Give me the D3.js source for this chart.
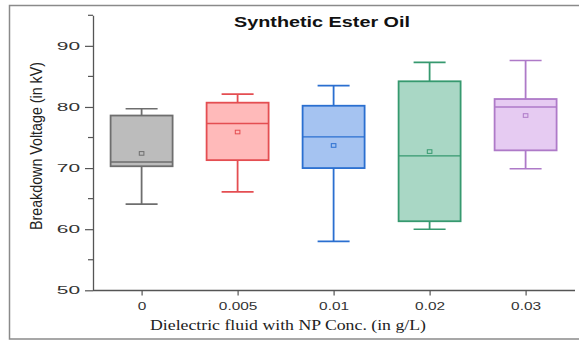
<!DOCTYPE html>
<html>
<head>
<meta charset="utf-8">
<script src="https://cdn.jsdelivr.net/npm/d3@7"></script>
<style>
  body { margin: 0; background: #fff; }
  svg { display: block; }
</style>
</head>
<body>
<svg id="chart" width="579" height="342"></svg>
<script>
// NP concentration groups (g/L)
const categories = ['0', '0.005', '0.01', '0.02', '0.03'];
// box stats (kV)
const whiskerLow = [64.1, 66.1, 58.0, 60.0, 69.9];
const q1 = [70.3, 71.3, 70.0, 61.3, 72.9];
const median = [71.0, 77.3, 75.1, 72.0, 80.0];
const q3 = [78.6, 80.7, 80.2, 84.2, 81.3];
const whiskerHigh = [79.7, 82.1, 83.5, 87.3, 87.6];
const mean = [72.4, 75.9, 73.7, 72.7, 78.6];
const yTicks = [50, 60, 70, 80, 90];
const yMinorTicks = [55, 65, 75, 85, 95];

const fills = ['#bcbcbc', '#ffbaba', '#a5c3f1', '#a9d7c5', '#e6cbf2'];
const strokes = ['#6e6e6e', '#e44e52', '#2a6fd0', '#36996f', '#ae7ac8'];

const svg = d3.select('#chart');
const axisColor = '#555';

// outer frame (right edge runs off the picture)
svg.append('rect')
    .attr('x', 9.5).attr('y', 5.5)
    .attr('width', 600).attr('height', 333.5)
    .attr('fill', 'none')
    .attr('stroke', '#8a8a8a')
    .attr('stroke-width', 1.5);

const yScale = d3.scaleLinear().domain([50, 95]).range([290.3, 15.3]);
const xScale = d3.scalePoint().domain(categories).range([141.6, 525.6]);

const boxWidth = 62;
const capWidth = 32;

// y axis
const yAxis = svg.append('g')
    .attr('transform', 'translate(93,0)')
    .call(d3.axisLeft(yScale).tickValues(yTicks).tickSize(8).tickSizeOuter(0).tickFormat(d3.format('d')));
yAxis.select('.domain').attr('stroke', axisColor).attr('stroke-width', 1.3);
yAxis.selectAll('.tick line').attr('stroke', axisColor).attr('stroke-width', 1.2);
yAxis.selectAll('.tick text')
    .attr('x', 0)
    .attr('text-anchor', 'end')
    .attr('transform', 'translate(-13,0) scale(1.9,1)')
    .attr('font-family', 'Liberation Sans, Arial, sans-serif')
    .attr('font-size', 11)
    .attr('fill', '#333');

svg.append('g')
    .selectAll('line')
    .data(yMinorTicks)
    .enter()
    .append('line')
    .attr('x1', 88).attr('x2', 93)
    .attr('y1', d => yScale(d)).attr('y2', d => yScale(d))
    .attr('stroke', axisColor)
    .attr('stroke-width', 1.2);

// x axis
svg.append('line')
    .attr('x1', 93).attr('x2', 575)
    .attr('y1', 290.5).attr('y2', 290.5)
    .attr('stroke', axisColor)
    .attr('stroke-width', 1.3);

const xAxis = svg.append('g')
    .attr('transform', 'translate(0,290.5)')
    .call(d3.axisBottom(xScale).tickSize(5).tickSizeOuter(0));
xAxis.select('.domain').remove();
xAxis.selectAll('.tick line').attr('stroke', axisColor).attr('stroke-width', 1.2);
xAxis.selectAll('.tick text')
    .attr('y', 12)
    .attr('transform', 'scale(1.4,1)')
    .attr('font-family', 'Liberation Sans, Arial, sans-serif')
    .attr('font-size', 11)
    .attr('fill', '#333');

// boxes
const rows = categories.map((c, i) => ({
    cat: c, lo: whiskerLow[i], q1: q1[i], med: median[i],
    q3: q3[i], hi: whiskerHigh[i], mean: mean[i], i: i
}));

const boxes = svg.selectAll('.box')
    .data(rows)
    .enter()
    .append('g')
    .attr('class', 'box');

boxes.append('line')
    .attr('x1', d => xScale(d.cat)).attr('x2', d => xScale(d.cat))
    .attr('y1', d => yScale(d.hi)).attr('y2', d => yScale(d.q3))
    .attr('stroke', d => strokes[d.i]).attr('stroke-width', 1.8);
boxes.append('line')
    .attr('x1', d => xScale(d.cat)).attr('x2', d => xScale(d.cat))
    .attr('y1', d => yScale(d.q1)).attr('y2', d => yScale(d.lo))
    .attr('stroke', d => strokes[d.i]).attr('stroke-width', 1.8);
boxes.append('line')
    .attr('x1', d => xScale(d.cat) - capWidth / 2).attr('x2', d => xScale(d.cat) + capWidth / 2)
    .attr('y1', d => yScale(d.hi)).attr('y2', d => yScale(d.hi))
    .attr('stroke', d => strokes[d.i]).attr('stroke-width', 1.6);
boxes.append('line')
    .attr('x1', d => xScale(d.cat) - capWidth / 2).attr('x2', d => xScale(d.cat) + capWidth / 2)
    .attr('y1', d => yScale(d.lo)).attr('y2', d => yScale(d.lo))
    .attr('stroke', d => strokes[d.i]).attr('stroke-width', 1.6);

boxes.append('rect')
    .attr('x', d => xScale(d.cat) - boxWidth / 2)
    .attr('y', d => yScale(d.q3))
    .attr('width', boxWidth)
    .attr('height', d => yScale(d.q1) - yScale(d.q3))
    .attr('fill', d => fills[d.i])
    .attr('stroke', d => strokes[d.i])
    .attr('stroke-width', 1.8);

boxes.append('line')
    .attr('x1', d => xScale(d.cat) - boxWidth / 2).attr('x2', d => xScale(d.cat) + boxWidth / 2)
    .attr('y1', d => yScale(d.med)).attr('y2', d => yScale(d.med))
    .attr('stroke', d => strokes[d.i]).attr('stroke-width', 1.4);

boxes.append('rect')
    .attr('x', d => xScale(d.cat) - 2.3)
    .attr('y', d => yScale(d.mean) - 1.8)
    .attr('width', 4.6).attr('height', 3.6)
    .attr('fill', 'none')
    .attr('stroke', d => strokes[d.i])
    .attr('stroke-width', 1);

// titles
svg.append('text')
    .attr('x', 322).attr('y', 26.5)
    .attr('text-anchor', 'middle')
    .attr('font-family', 'Liberation Sans, Arial, sans-serif')
    .attr('font-weight', 'bold')
    .attr('font-size', 15)
    .attr('textLength', 176)
    .attr('lengthAdjust', 'spacingAndGlyphs')
    .attr('fill', '#111')
    .text('Synthetic Ester Oil');

svg.append('text')
    .attr('transform', 'translate(41.5,146) rotate(-90)')
    .attr('text-anchor', 'middle')
    .attr('font-family', 'Liberation Sans, Arial, sans-serif')
    .attr('font-size', 16.5)
    .attr('textLength', 168)
    .attr('lengthAdjust', 'spacingAndGlyphs')
    .attr('fill', '#222')
    .text('Breakdown Voltage (in kV)');

svg.append('text')
    .attr('x', 288).attr('y', 330)
    .attr('text-anchor', 'middle')
    .attr('font-family', 'Liberation Serif, Times New Roman, serif')
    .attr('font-size', 14.5)
    .attr('textLength', 276)
    .attr('lengthAdjust', 'spacingAndGlyphs')
    .attr('fill', '#222')
    .text('Dielectric fluid with NP Conc. (in g/L)');
</script>
</body>
</html>
